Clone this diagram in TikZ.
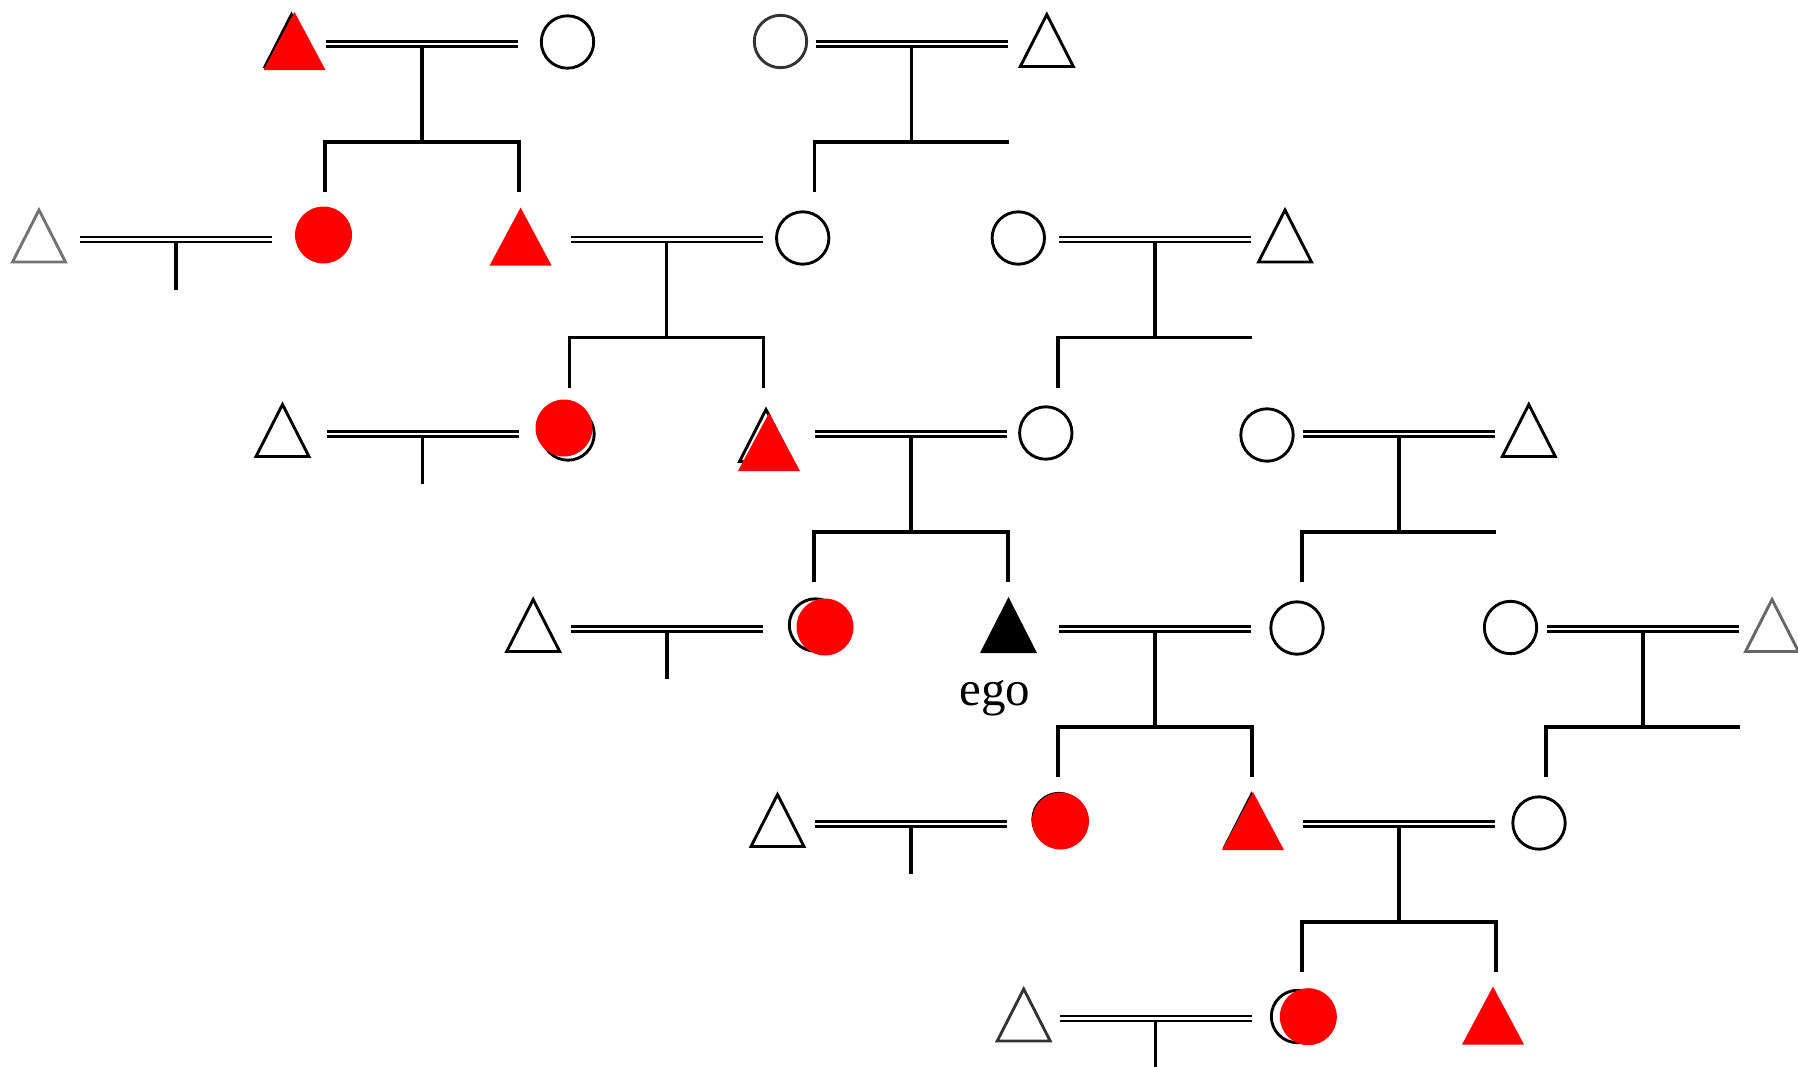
\documentclass[tikz,border=0pt]{standalone}
\usepackage{fontspec}
\setmainfont{Liberation Serif}
\usetikzlibrary{calc}
\newcommand\marr[1]{%
  \draw[dbl] ($(#1)+(-96,-2.6)$) -- ($(#1)+(96,-2.6)$);
  \draw[dbl] ($(#1)+(-96,2.6)$) -- ($(#1)+(96,2.6)$);}
\newcommand\shortdrop[1]{\draw[ln] ($(#1)+(0,2.5)$) -- ($(#1)+(0,50)$);}
\newcommand\kidstwo[1]{\draw[ln] ($(#1)+(0,2.5)$) -- ($(#1)+(0,98)$);
  \draw[ln] ($(#1)+(-97,148)$) |- ($(#1)+(0,98)$) -| ($(#1)+(97,148)$);}
\newcommand\kidsone[1]{\draw[ln] ($(#1)+(0,2.5)$) -- ($(#1)+(0,98)$);
  \draw[ln] ($(#1)+(-97,148)$) |- ($(#1)+(97,98)$);}
% outline triangle: name, x, y, colour
\newcommand\otri[4]{\coordinate (#1) at (#2,#3);
  \draw[outl,draw=#4] ($(#1)+(0,-29.5)$) -- ($(#1)+(26.5,22.5)$) -- ($(#1)+(-26.5,22.5)$) -- cycle;}
% red filled triangle
\newcommand\rtri[3]{\coordinate (#1) at (#2,#3);
  \fill[red] ($(#1)+(0,-32)$) -- ($(#1)+(31,26)$) -- ($(#1)+(-31,26)$) -- cycle;}
% outline circle
\newcommand\ocirc[4]{\coordinate (#1) at (#2,#3);
  \draw[outl,draw=#4] (#1) circle[radius=26.2];}
% red filled circle
\newcommand\rcirc[3]{\coordinate (#1) at (#2,#3);
  \fill[red] (#1) circle[radius=28.5];}
\begin{document}
\begin{tikzpicture}[x=0.4pt,y=-0.4pt,line join=miter,line cap=butt,
  ln/.style={line width=1.25pt,draw=black},
  dbl/.style={line width=1.0pt,draw=black},
  outl/.style={line width=1.15pt}]
\useasboundingbox (0,0) rectangle (1798,1066);
\fill[white] (0,0) rectangle (1798,1066);
% family (marriage) centres
\coordinate (F11) at (422,44);
\coordinate (F12) at (911.5,44);
\coordinate (F21) at (176,239.5);
\coordinate (F22) at (666.5,239.5);
\coordinate (F23) at (1155,239.5);
\coordinate (F31) at (422.5,434);
\coordinate (F32) at (911,434);
\coordinate (F33) at (1399,434);
\coordinate (F41) at (667,629);
\coordinate (F42) at (1155,629);
\coordinate (F43) at (1643,629);
\coordinate (F51) at (911,824);
\coordinate (F52) at (1399,824);
\coordinate (F61) at (1155.5,1018.5);
\foreach \f in {F11,F12,F21,F22,F23,F31,F32,F33,F41,F42,F43,F51,F52,F61}{\marr{\f}}
\kidstwo{F11}\kidsone{F12}
\shortdrop{F21}\kidstwo{F22}\kidsone{F23}
\shortdrop{F31}\kidstwo{F32}\kidsone{F33}
\shortdrop{F41}\kidstwo{F42}\kidsone{F43}
\shortdrop{F51}\kidstwo{F52}
\shortdrop{F61}
% row 1
\otri{t1a}{291.5}{44}{black}
\rtri{r1a}{294.5}{44}
\ocirc{c1b}{567.5}{42}{black}
\ocirc{c1c}{780.5}{41.5}{black!80}
\otri{t1d}{1046.8}{44}{black}
% row 2
\otri{t2a}{39}{239.5}{black!55}
\rcirc{r2b}{323.5}{235}
\rtri{r2c}{520.6}{239.5}
\ocirc{c2d}{802.7}{238}{black}
\ocirc{c2e}{1018.3}{238}{black}
\otri{t2f}{1285}{239.5}{black}
% row 3
\otri{t3a}{282.5}{434}{black}
\ocirc{c3b}{568}{434}{black}
\rcirc{r3b}{564}{428}
\otri{t3c}{766}{439}{black}
\rtri{r3c}{769}{445}
\ocirc{c3d}{1045.8}{433}{black}
\ocirc{c3e}{1267}{435}{black}
\otri{t3f}{1528.8}{434}{black}
% row 4
\otri{t4a}{533.2}{629}{black}
\ocirc{c4b}{815.5}{625}{black}
\rcirc{r4b}{825}{627}
\coordinate (ego) at (1008.5,629);
\fill[black] ($(ego)+(0,-32)$) -- ($(ego)+(28.5,24)$) -- ($(ego)+(-28.5,24)$) -- cycle;
\node[anchor=base,inner sep=0pt,font=\fontsize{19.6pt}{22pt}\selectfont] (egolabel) at (995,705) {ego};
\ocirc{c4c}{1297}{628}{black}
\ocirc{c4d}{1510.5}{627.5}{black}
\otri{t4e}{1772}{629}{black!60}
% row 5
\otri{t5a}{777.5}{824}{black}
\ocirc{c5b}{1059}{819.5}{black}
\rcirc{r5b}{1060.5}{821}
\otri{t5c}{1251.5}{824}{black}
\rtri{r5c}{1253}{824}
\ocirc{c5d}{1539}{823}{black}
% row 6
\otri{t6a}{1023.7}{1018.5}{black!80}
\ocirc{c6b}{1297.5}{1016.5}{black}
\rcirc{r6b}{1308.3}{1016.7}
\rtri{r6c}{1493}{1018.5}
\end{tikzpicture}
\end{document}
